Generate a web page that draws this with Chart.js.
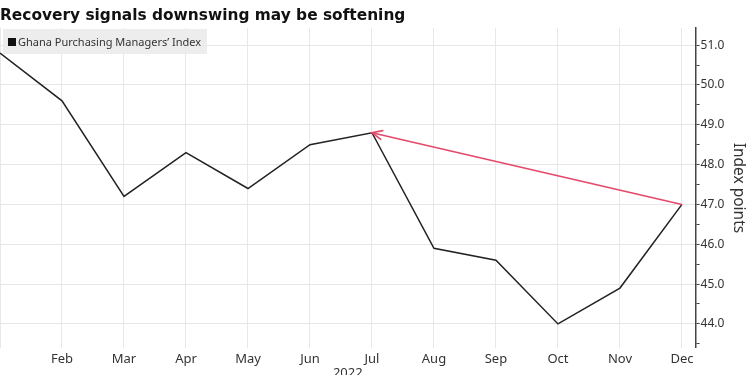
<!DOCTYPE html>
<html><head><meta charset="utf-8">
<script src="https://cdn.jsdelivr.net/npm/chart.js@4"></script>
<style>
html,body{margin:0;padding:0;background:#fff;overflow:hidden;width:750px;height:375px}
#wrap{position:relative;width:750px;height:381px}
#title{position:absolute;left:0;top:6px;font:bold 15.4px "DejaVu Sans";color:#111;white-space:nowrap;letter-spacing:0}
#legend{position:absolute;left:3px;top:29px;height:25px;padding:0 6px 0 5px;background:rgba(236,236,236,0.92);font:11px "Noto Sans";color:#333;display:flex;align-items:center;white-space:nowrap}
#legend .sw{display:inline-block;width:8px;height:8px;background:#111;margin-right:2px}
</style></head>
<body><div id="wrap"><canvas id="c" width="750" height="381"></canvas>
<div id="title"></div><div id="legend"><span class="sw"></span><span id="lt"></span></div></div>
<script>
const chartTitle = 'Recovery signals downswing may be softening';
const seriesName = 'Ghana Purchasing Managers\u2019 Index';
const months = ['Jan','Feb','Mar','Apr','May','Jun','Jul','Aug','Sep','Oct','Nov','Dec'];
const pmi = [50.8, 49.6, 47.2, 48.3, 47.4, 48.5, 48.8, 45.9, 45.6, 44.0, 44.9, 47.0];
const arrowFromIdx = 11; // Dec
const arrowToIdx = 6;    // Jul
const yTickValues = [43.5,44,44.5,45,45.5,46,46.5,47,47.5,48,48.5,49,49.5,50,50.5,51];
const yearLabel = '2022';
const yAxisTitle = 'Index points';

document.getElementById('title').textContent = chartTitle;
document.getElementById('lt').textContent = seriesName;

const FONT = '"Noto Sans"';
const arrowHead = {
  id:'arrowHead',
  afterDatasetsDraw(chart){
    const meta = chart.getDatasetMeta(0);
    const p0 = meta.data[0], p1 = meta.data[1];
    const a = Math.atan2(p1.y-p0.y, p1.x-p0.x);
    const L = 11, w = 0.42;
    const ctx = chart.ctx;
    ctx.save();
    ctx.strokeStyle = '#e5486a'; ctx.lineWidth = 1.6; ctx.lineCap='round';
    ctx.beginPath();
    ctx.moveTo(p1.x - L*Math.cos(a-w), p1.y - L*Math.sin(a-w));
    ctx.lineTo(p1.x, p1.y);
    ctx.lineTo(p1.x - L*Math.cos(a+w), p1.y - L*Math.sin(a+w));
    ctx.stroke();
    ctx.restore();
  }
};

new Chart(document.getElementById('c'), {
  type:'line',
  data:{
    datasets:[
      {label:'arrow', data:[{x:arrowFromIdx,y:pmi[arrowFromIdx]},{x:arrowToIdx,y:pmi[arrowToIdx]}],
       borderColor:'#e5486a', borderWidth:1.6, pointRadius:0, tension:0},
      {label:seriesName, data:pmi.map((v,i)=>({x:i,y:v})),
       borderColor:'#222', borderWidth:1.5, pointRadius:0, tension:0}
    ]
  },
  options:{
    responsive:false, animation:false, devicePixelRatio:1,
    layout:{padding:{top:28,left:0,right:0,bottom:0}},
    plugins:{legend:{display:false}, tooltip:{enabled:false}},
    scales:{
      x:{type:'linear', min:0, max:11.22,
         afterBuildTicks:s=>{s.ticks = months.map((m,i)=>({value:i}));},
         ticks:{autoSkip:false, maxRotation:0, padding:0, color:'#333', font:{family:FONT,size:13},
                callback:(v)=> v===0 ? '' : months[v]},
         grid:{color:'#e8e8e8', drawTicks:true, tickLength:4, tickColor:'rgba(0,0,0,0)', lineWidth:1},
         border:{display:false},
         title:{display:true, text:yearLabel, color:'#333', font:{family:FONT,size:13}, padding:{top:-2,bottom:0}}
      },
      y:{position:'right', min:43.40, max:51.43,
         afterBuildTicks:s=>{s.ticks = yTickValues.map(v=>({value:v}));},
         ticks:{autoSkip:false, padding:1, color:'#333', font:{family:FONT,size:12},
                callback:(v)=> Number.isInteger(v) ? v.toFixed(1) : ''},
         grid:{color:c=> (c.tick && Number.isInteger(c.tick.value)) ? '#e6e6e6' : 'rgba(0,0,0,0)',
               tickColor:'#444', tickLength:4, lineWidth:1},
         border:{color:'#444', width:1.5},
         title:{display:true, text:yAxisTitle, color:'#333', font:{family:FONT,size:15.5}, padding:{top:2,bottom:4}}
      }
    }
  },
  plugins:[arrowHead]
});
</script>
</body></html>
